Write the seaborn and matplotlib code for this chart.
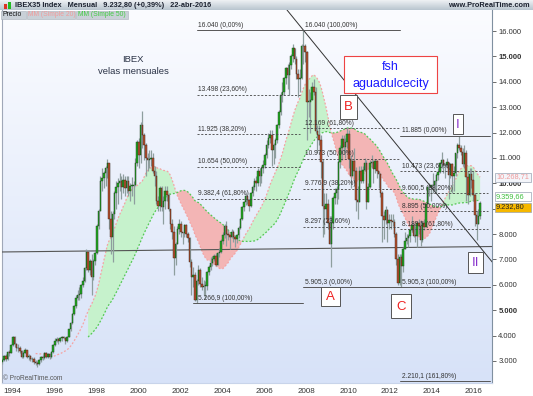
import numpy as np
import pandas as pd
import matplotlib
matplotlib.use("Agg")
import matplotlib.pyplot as plt
import seaborn as sns
from matplotlib.patches import Rectangle
from matplotlib.colors import LinearSegmentedColormap

# ---------------- data (IBEX 35 monthly candles, Jul 1993 - Apr 2016) ----------------
first_month = (1993, 7)
first_open = 2950
closes = [
    3050, 3200, 3080, 3350, 3320, 3615,
    3950, 3650, 3500, 3520, 3400, 3150, 3330, 3420, 3150, 3180, 3060, 3088,
    2960, 2930, 2870, 3020, 3160, 3100, 3310, 3150, 3260, 3140, 3360, 3631,
    3800, 3850, 3770, 3900, 3950, 3920, 3800, 3960, 4250, 4500, 4850, 5154,
    5500, 5600, 5650, 6000, 6150, 6650, 7300, 6600, 6950, 6300, 6950, 7255,
    8300, 8900, 10100, 10200, 10400, 10600, 10800, 8600, 7900, 8800, 9600, 9837,
    10000, 10100, 9850, 10150, 9800, 10100, 9700, 9900, 9900, 9950, 10800, 11641,
    11100, 12300, 11900, 11500, 11000, 10900, 10950, 11000, 10500, 10300, 9300, 9110,
    9800, 9050, 9300, 9700, 9550, 9000, 8400, 8100, 7050, 7600, 8200, 8398,
    8100, 8050, 8350, 8000, 7850, 6900, 6300, 6400, 5400, 6150, 6600, 6037,
    5900, 5950, 5950, 6500, 6700, 6850, 7000, 7150, 6800, 7250, 7300, 7737,
    7950, 8300, 8000, 7950, 7900, 8100, 7900, 7800, 7950, 8250, 8600, 9081,
    9250, 9500, 9350, 9100, 9600, 9850, 10100, 10000, 10500, 10300, 10600, 10734,
    11100, 11500, 11800, 11900, 11300, 11500, 11700, 12300, 12800, 13500, 13600, 14147,
    14550, 14250, 14650, 15000, 15350, 14900, 14300, 14100, 14150, 15400, 15400, 15182,
    13200, 13200, 13300, 13800, 13600, 12050, 11900, 11700, 10850, 9100, 9000, 9196,
    8450, 7620, 8425, 9425, 9600, 9790, 10855, 11400, 11756, 11414, 11646, 11940,
    10950, 10300, 10870, 10500, 9360, 9260, 10500, 10090, 10510, 10800, 9270, 9859,
    10800, 10850, 10580, 10880, 10480, 10360, 9630, 8720, 8550, 8950, 8450, 8566,
    8510, 8470, 8010, 7010, 6090, 7100, 6740, 7420, 7710, 7840, 7930, 8168,
    8360, 7930, 7920, 8420, 8320, 7760, 8430, 8290, 9190, 9840, 9840, 9917,
    9920, 10110, 10340, 10460, 10800, 10920, 10710, 10730, 10830, 10340, 10770, 10280,
    10400, 11180, 11520, 11390, 11220, 10770, 11180, 10260, 9560, 10360, 10140, 9544,
    8760, 8390, 8720, 9233,
]
highs = [
    3100, 3250, 3270, 3400, 3450, 3650,
    4000, 3980, 3700, 3650, 3600, 3450, 3400, 3500, 3450, 3280, 3250, 3150,
    3150, 3050, 3000, 3080, 3200, 3250, 3350, 3350, 3300, 3300, 3400, 3650,
    3900, 3950, 3900, 3950, 4000, 4000, 3950, 4000, 4280, 4550, 4900, 5200,
    5600, 5800, 5900, 6050, 6300, 6700, 7400, 7350, 7000, 7200, 7000, 7300,
    8400, 9000, 10300, 10600, 10500, 10700, 10950, 10800, 8900, 8900, 9700, 10100,
    10200, 10400, 10300, 10350, 10300, 10300, 10300, 10000, 10250, 10100, 11000, 11700,
    11800, 12400, 12850, 12000, 11600, 11200, 11300, 11300, 11200, 10700, 10500, 9500,
    9900, 9900, 9500, 9900, 9900, 9600, 9000, 8600, 8300, 7700, 8300, 8600,
    8500, 8100, 8400, 8400, 8100, 7900, 7000, 6700, 6500, 6250, 6800, 6650,
    6300, 6200, 6150, 6550, 6800, 7100, 7150, 7200, 7250, 7300, 7450, 7800,
    8100, 8400, 8500, 8150, 8000, 8200, 8150, 7950, 8000, 8300, 8650, 9100,
    9300, 9600, 9500, 9400, 9650, 9950, 10200, 10300, 10600, 10600, 10700, 10900,
    11200, 11700, 12000, 12100, 12100, 11600, 11800, 12350, 12900, 13600, 14000, 14200,
    14600, 14700, 14800, 15100, 15500, 15300, 15000, 14500, 14500, 15500, 16040, 15500,
    15200, 13700, 13600, 14000, 14100, 13800, 12300, 12300, 11900, 10950, 9600, 9600,
    9400, 8700, 8700, 9500, 9800, 9900, 10900, 11500, 11900, 11900, 11800, 12200,
    12100, 11100, 10900, 11400, 10650, 9900, 10700, 10700, 10700, 11000, 10900, 10000,
    10900, 11100, 10900, 10950, 10900, 10500, 10400, 9700, 8900, 9100, 9000, 8800,
    8800, 8800, 8600, 8100, 7200, 7200, 7200, 7500, 8100, 8000, 8000, 8200,
    8700, 8450, 8300, 8500, 8600, 8550, 8450, 8600, 9200, 9900, 10000, 9950,
    10400, 10150, 10400, 10600, 10850, 11250, 10950, 10800, 11000, 10850, 10800, 10800,
    10700, 11200, 11600, 11885, 11500, 11400, 11500, 11300, 10500, 10600, 10600, 10500,
    9600, 8900, 9000, 9300,
]
lows = [
    2880, 3000, 3000, 3050, 3200, 3300,
    3600, 3550, 3400, 3350, 3300, 3100, 3100, 3300, 3100, 3050, 3000, 2950,
    2900, 2850, 2780, 2850, 2980, 3050, 3080, 3100, 3100, 3080, 3100, 3330,
    3600, 3750, 3680, 3750, 3800, 3850, 3650, 3750, 3950, 4200, 4450, 4800,
    5100, 5400, 5400, 5500, 5900, 6100, 6600, 6500, 6400, 5600, 6200, 6800,
    7200, 8200, 8900, 9700, 9800, 9900, 10200, 8200, 7200, 6900, 8600, 9000,
    9200, 9700, 9400, 9600, 9500, 9600, 9500, 9300, 9500, 9200, 9900, 10700,
    10600, 10800, 11400, 10900, 10300, 10500, 10600, 10700, 10400, 9900, 9200, 8900,
    8900, 8900, 8400, 9000, 9300, 8900, 8200, 7800, 6400, 6800, 7600, 8000,
    7900, 7600, 7900, 7900, 7700, 6700, 5600, 5900, 5350, 5267, 6000, 5900,
    5800, 5600, 5450, 5800, 6400, 6600, 6750, 6950, 6750, 6800, 7100, 7250,
    7600, 7850, 7550, 7750, 7400, 7850, 7700, 7500, 7650, 7850, 8200, 8550,
    8900, 9150, 9200, 8900, 9050, 9500, 9750, 9700, 9900, 9900, 10000, 10400,
    10600, 11000, 11400, 11600, 10700, 10750, 11000, 11600, 12200, 12700, 13200, 13500,
    13900, 13700, 13500, 14500, 14800, 14700, 14100, 13400, 13600, 14100, 14700, 14800,
    11700, 12600, 12000, 13300, 13500, 12000, 11200, 11500, 10200, 7900, 8000, 8600,
    8200, 7600, 6700, 8200, 9200, 9200, 9400, 10600, 10900, 11200, 11000, 11400,
    10600, 9800, 10300, 10000, 8900, 8600, 9300, 10000, 10000, 10500, 9000, 9300,
    9800, 10600, 10000, 10400, 10200, 9800, 9450, 7700, 7800, 8400, 7700, 8200,
    8200, 8300, 7900, 6800, 6000, 6000, 5905, 6500, 7400, 7600, 7500, 7700,
    8100, 7900, 7700, 7500, 8000, 7550, 7700, 8150, 8300, 9200, 9500, 9300,
    9600, 9700, 9600, 10150, 10400, 10600, 10400, 10200, 10600, 9400, 10200, 9600,
    9700, 10300, 11000, 11300, 11100, 10700, 10600, 9300, 9200, 9500, 9800, 9300,
    8300, 7750, 8400, 8600,
]

# Fibonacci retracement sets (levels and labels as printed on the chart)
fib1_levels = [16040, 13498, 11925, 10654, 9382.4, 5266.9]
fib1_labels = ["16.040 (0,00%)", "13.498 (23,60%)", "11.925 (38,20%)",
               "10.654 (50,00%)", "9.382,4 (61,80%)", "5.266,9 (100,00%)"]
fib2_levels = [16040, 12169, 10973, 9776.9, 8297, 5905.3]
fib2_labels = ["16.040 (100,00%)", "12.169 (61,80%)", "10.973 (50,00%)",
               "9.776,9 (38,20%)", "8.297 (23,60%)", "5.905,3 (0,00%)"]
fib3_levels = [11885, 10473, 9600.5, 8895, 8189.5, 5905.3, 2210.1]
fib3_labels = ["11.885 (0,00%)", "10.473 (23,60%)", "9.600,5 (38,20%)",
               "8.895 (50,00%)", "8.189,5 (61,80%)", "5.905,3 (100,00%)",
               "2.210,1 (161,80%)"]

trend_x = [2007.095, 2016.905]
trend_y = [16830, 6861]
support_x = [1993.43, 2017.0]
support_y = [7295, 7512]

ma20_last, ma50_last, price_last = "10.268,71", "9.359,66", "9.232,80"
x_ticks = list(range(1994, 2017, 2))
y_ticks = list(range(3000, 16001, 1000))
hidden_y_labels = [9000]   # covered by the last-price tag in the reference

# ---------------- derived frame ----------------
n = len(closes)
t = np.array([first_month[0] + (first_month[1] - 1 + i + 0.5) / 12 for i in range(n)])
opens = [first_open] + closes[:-1]
df = pd.DataFrame({"t": t, "open": opens, "close": closes, "high": highs, "low": lows})
df["high"] = df[["high", "open", "close"]].max(axis=1)
df["low"] = df[["low", "open", "close"]].min(axis=1)
df["ma20"] = df["close"].rolling(20).mean()
df["ma50"] = df["close"].rolling(50).mean()

# ---------------- figure ----------------
sns.set_style("white")
plt.rcParams["font.family"] = ["Liberation Sans", "DejaVu Sans"]

W, H = 533, 396
fig = plt.figure(figsize=(W / 100, H / 100), dpi=100)
fig.patch.set_facecolor("white")

px_l, px_r, px_t, px_b = 2, 492, 10, 383
ax = fig.add_axes([px_l / W, (H - px_b) / H, (px_r - px_l) / W, (px_b - px_t) / H])

# background gradient
bg = LinearSegmentedColormap.from_list("bg", ["#fbfcff", "#d7e2f8"])
ax.imshow(np.linspace(0, 1, 256).reshape(-1, 1), cmap=bg, aspect="auto",
          extent=[0, 1, 0, 1], transform=ax.transAxes, zorder=0)

# MA ribbons
m = df.dropna(subset=["ma50"])
ax.fill_between(m["t"], m["ma20"], m["ma50"], where=m["ma20"] >= m["ma50"],
                interpolate=True, color="#c6f2cc", lw=0, zorder=1)
ax.fill_between(m["t"], m["ma20"], m["ma50"], where=m["ma20"] < m["ma50"],
                interpolate=True, color="#f3b5b5", lw=0, zorder=1)
sns.lineplot(data=df, x="t", y="ma20", ax=ax, color="#f5a3a3", lw=0.9,
             linestyle=(0, (1.5, 1.5)), zorder=2)
sns.lineplot(data=df, x="t", y="ma50", ax=ax, color="#55c855", lw=0.9,
             linestyle=(0, (1.5, 1.5)), zorder=2)

# trend lines
ax.plot(support_x, support_y, color="#555555", lw=0.8, zorder=3)
ax.plot(trend_x, trend_y, color="#333333", lw=0.7, zorder=6)

# candles
ax.vlines(df["t"], df["low"], df["high"], color="#8e9e9e", lw=0.9, zorder=4)
up = df["close"] >= df["open"]
body_lo = np.minimum(df["open"], df["close"])
body_h = np.maximum(np.abs(df["close"] - df["open"]), 25)
ax.bar(df["t"][up], body_h[up], bottom=body_lo[up], width=0.06,
       color="#22aa22", edgecolor="#1b3b1b", lw=0.3, zorder=5)
ax.bar(df["t"][~up], body_h[~up], bottom=body_lo[~up], width=0.06,
       color="#b5502e", edgecolor="#3b2418", lw=0.3, zorder=5)

# fibonacci lines
fib_sets = [
    dict(levels=fib1_levels, labels=fib1_labels, x0=2002.81, x1=2007.71, tx=2002.85,
         solid={0: (2002.81, 2012.48), 5: (2002.6, 2007.86)}),
    dict(levels=fib2_levels, labels=fib2_labels, x0=2007.86, x1=2012.48, tx=2007.95,
         solid={0: None, 5: (2007.86, 2016.76)}),
    dict(levels=fib3_levels, labels=fib3_labels, x0=2012.48, x1=2016.67, tx=2012.57,
         solid={0: (2012.48, 2016.76), 5: None, 6: (2012.48, 2016.76)}),
]
for fs in fib_sets:
    for i, (lv, lb) in enumerate(zip(fs["levels"], fs["labels"])):
        if i in fs["solid"]:
            seg = fs["solid"][i]
            if seg is not None:
                ax.plot(seg, [lv, lv], color="#555555", lw=0.7, zorder=6)
        else:
            ax.plot([fs["x0"], fs["x1"]], [lv, lv], color="#444444", lw=0.6,
                    linestyle=(0, (2.5, 2)), zorder=6)
        ax.text(fs["tx"], lv + 60, lb, fontsize=4.8, color="#333333",
                ha="left", va="bottom", zorder=7)

ax.set_xlim(1993.524, 2016.857)
ax.set_ylim(2133, 16830)
ax.set_xlabel("")
ax.set_ylabel("")
ax.yaxis.tick_right()
ax.set_yticks(y_ticks)
ax.set_yticklabels(["" if v in hidden_y_labels else f"{v:,}".replace(",", ".")
                    for v in y_ticks])
for lab, v in zip(ax.get_yticklabels(), y_ticks):
    if v % 5000 == 0:
        lab.set_fontweight("bold")
        lab.set_color("#111111")
ax.set_xticks(x_ticks)
ax.set_xticklabels([str(v) for v in x_ticks])
ax.tick_params(axis="y", labelsize=5.5, colors="#333333", length=3, width=0.5,
               direction="out", pad=1.5, right=True, left=False)
ax.tick_params(axis="x", labelsize=5.8, colors="#333333", length=2, width=0.5,
               direction="out", pad=1.5)
ax.spines["top"].set_visible(False)
ax.spines["right"].set_color("#8090a0")
ax.spines["left"].set_color("#a0a8b8")
ax.spines["bottom"].set_color("#c8d4ea")
for s in ax.spines.values():
    s.set_linewidth(0.8)

# header bar
hd = fig.add_axes([0, (H - 10) / H, 1, 10 / H], zorder=15)
hcm = LinearSegmentedColormap.from_list("hd", ["#eef1f4", "#b9c5cf"])
hd.imshow(np.linspace(0, 1, 32).reshape(-1, 1), cmap=hcm, aspect="auto", extent=[0, 1, 0, 1])
hd.set_xlim(0, 1); hd.set_ylim(0, 1); hd.axis("off")

# overlay in pixel coordinates for annotations
ov = fig.add_axes([0, 0, 1, 1], zorder=20)
ov.set_xlim(0, W); ov.set_ylim(H, 0); ov.axis("off"); ov.patch.set_alpha(0)

ov.add_patch(Rectangle((4, 4), 3, 5, fc="#dd3322", ec="none"))
ov.add_patch(Rectangle((8, 1.5), 3, 7, fc="#22bb22", ec="none"))
ov.text(15, 5.2, "IBEX35 Index   Mensual   9.232,80 (+0,39%)   22-abr-2016",
        fontsize=5.3, fontweight="bold", color="#1c2230", va="center", ha="left")
ov.text(530, 5.2, "www.ProRealTime.com", fontsize=5.3, fontweight="bold",
        color="#1c2230", va="center", ha="right")

# legend row
for (x0, w, txt, col) in [(1, 25, "Precio", "#111111"), (27, 48, "MM (Simple 20)", "#f19a9a"),
                          (76, 52, "MM (Simple 50)", "#44cc44")]:
    ov.add_patch(Rectangle((x0, 10.5), w, 8.5, fc="#c9d0d7", ec="#a8b0b8", lw=0.4))
    ov.text(x0 + 1.5, 15, txt, fontsize=4.9, color=col, va="center", ha="left")

ov.text(133, 60, "IBEX", fontsize=6.8, color="#2a3346", ha="center", va="center")
ov.text(133, 71, "velas mensuales", fontsize=6.8, color="#2a3346", ha="center", va="center")

ov.add_patch(Rectangle((344, 56), 93, 37, fc="white", ec="#ee4444", lw=0.8))
ov.text(390.5, 67, "fsh", fontsize=9, color="#1a1aff", ha="center", va="center")
ov.text(390.5, 84, "aguadulcecity", fontsize=9, color="#1a1aff", ha="center", va="center")

for (x0, y0, w, h, txt, col) in [(340, 95, 17, 24, "B", "#ee2222"),
                                 (321, 287, 19, 19, "A", "#ee2222"),
                                 (391, 294, 20, 24, "C", "#ee2222"),
                                 (453, 114, 10, 20, "I", "#8833cc"),
                                 (468, 252, 15, 21, "II", "#8833cc")]:
    ov.add_patch(Rectangle((x0, y0), w, h, fc="white", ec="#555555", lw=0.7))
    ov.text(x0 + w / 2, y0 + h / 2 + 0.5, txt, fontsize=9.5, color=col, ha="center", va="center")

ov.text(3, 378, "© ProRealTime.com", fontsize=4.8, color="#555555", ha="left", va="center")

# last-value tags on the price axis
for (y, txt, fc, tc) in [(177, ma20_last, "#f3f5fa", "#f09a9a"),
                         (196.5, ma50_last, "#ffffff", "#3fbf3f"),
                         (207, price_last, "#f6b800", "#222222")]:
    ov.add_patch(Rectangle((494.5, y - 4.5), 36, 9, fc=fc, ec="#9aa4b4", lw=0.5))
    ov.text(496, y, txt, fontsize=5.3, color=tc, ha="left", va="center")

fig.savefig("out.png", dpi=100)
